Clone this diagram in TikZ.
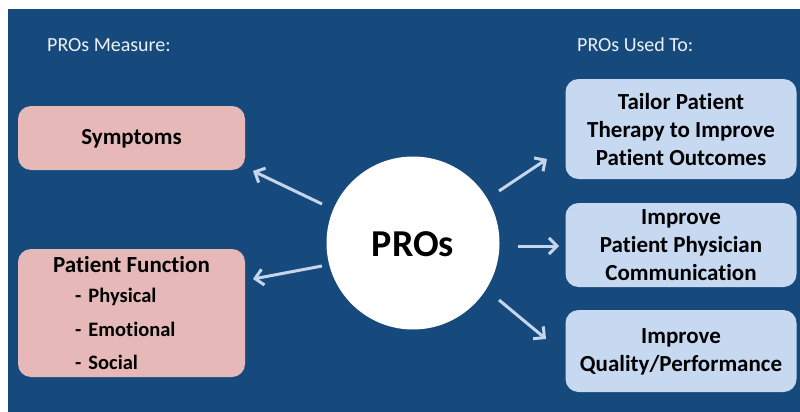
\documentclass[tikz,border=0pt]{standalone}
\usepackage{fontspec}
\setmainfont{Carlito}[Ligatures=NoCommon]
\usetikzlibrary{arrows.meta}
\definecolor{bgblue}{HTML}{174A7C}
\definecolor{pinkbox}{HTML}{E6B9B8}
\definecolor{bluebox}{HTML}{C6D9F1}
\definecolor{arrowblue}{HTML}{C5D6EC}
\tikzset{
  pinkstyle/.style={fill=pinkbox, rounded corners=13pt, minimum width=227pt, inner sep=0pt},
  bluestyle/.style={fill=bluebox, rounded corners=13pt, minimum width=231pt, inner sep=0pt},
  boxtext/.style={font=\bfseries\fontsize{23}{28}\selectfont, text=black, align=center, inner sep=0pt},
  itemtext/.style={font=\bfseries\fontsize{20.5}{24}\selectfont, text=black, anchor=west, inner sep=0pt},
  titletext/.style={font=\fontsize{20}{24}\selectfont, text=white!92!bgblue, anchor=west, inner sep=0pt},
  arr/.style={draw=arrowblue, line width=3pt, -{Straight Barb[length=8pt,width=16pt,line width=3pt]}}
}
\begin{document}
\begin{tikzpicture}[x=1pt,y=-1pt]
\useasboundingbox (0,0) rectangle (800,412);
\fill[white] (0,0) rectangle (800,412);
\fill[bgblue] (8,9) rectangle (800,412);

\node[titletext] (t1) at (47,45) {PROs Measure:};
\node[titletext] (t2) at (577,45) {PROs Used To:};

\node[pinkstyle, minimum height=64pt] (sym) at (131.5,138) {};
\node[boxtext] (symt) at (131.5,139) {Symptoms};

\node[pinkstyle, minimum height=128pt] (pf) at (131.5,313) {};
\node[boxtext] (pft) at (131.5,265) {Patient Function};
\node[itemtext] (i1) at (75,297) {-\hspace{7pt}Physical};
\node[itemtext] (i2) at (75,329) {-\hspace{7pt}Emotional};
\node[itemtext] (i3) at (75,362) {-\hspace{7pt}Social};

\node[bluestyle, minimum height=100pt] (tail) at (681,129) {};
\node[boxtext] (tailt) at (681,130) {Tailor Patient\\Therapy to Improve\\Patient Outcomes};

\node[bluestyle, minimum height=84pt] (comm) at (681,245) {};
\node[boxtext] (commt) at (681,245) {Improve\\Patient Physician\\Communication};

\node[bluestyle, minimum height=82pt] (qual) at (681,351) {};
\node[boxtext] (qualt) at (681,351.5) {Improve\\Quality/Performance};

\node[circle, fill=white, minimum size=173pt, inner sep=0pt] (pros) at (413,243) {};
\node[font=\bfseries\fontsize{38}{42}\selectfont, text=black, inner sep=0pt] (prost) at (413,244) {PROs};

\coordinate (a1s) at (322,204);
\coordinate (a1e) at (253,171);
\coordinate (a2s) at (322,266);
\coordinate (a2e) at (253,279);
\coordinate (a3s) at (499,191);
\coordinate (a3e) at (547,159);
\coordinate (a4s) at (518,246);
\coordinate (a4e) at (559,246);
\coordinate (a5s) at (499,300);
\coordinate (a5e) at (546,339);

\draw[arr] (a1s) -- (a1e);
\draw[arr] (a2s) -- (a2e);
\draw[arr] (a3s) -- (a3e);
\draw[arr] (a4s) -- (a4e);
\draw[arr] (a5s) -- (a5e);
\end{tikzpicture}
\end{document}
